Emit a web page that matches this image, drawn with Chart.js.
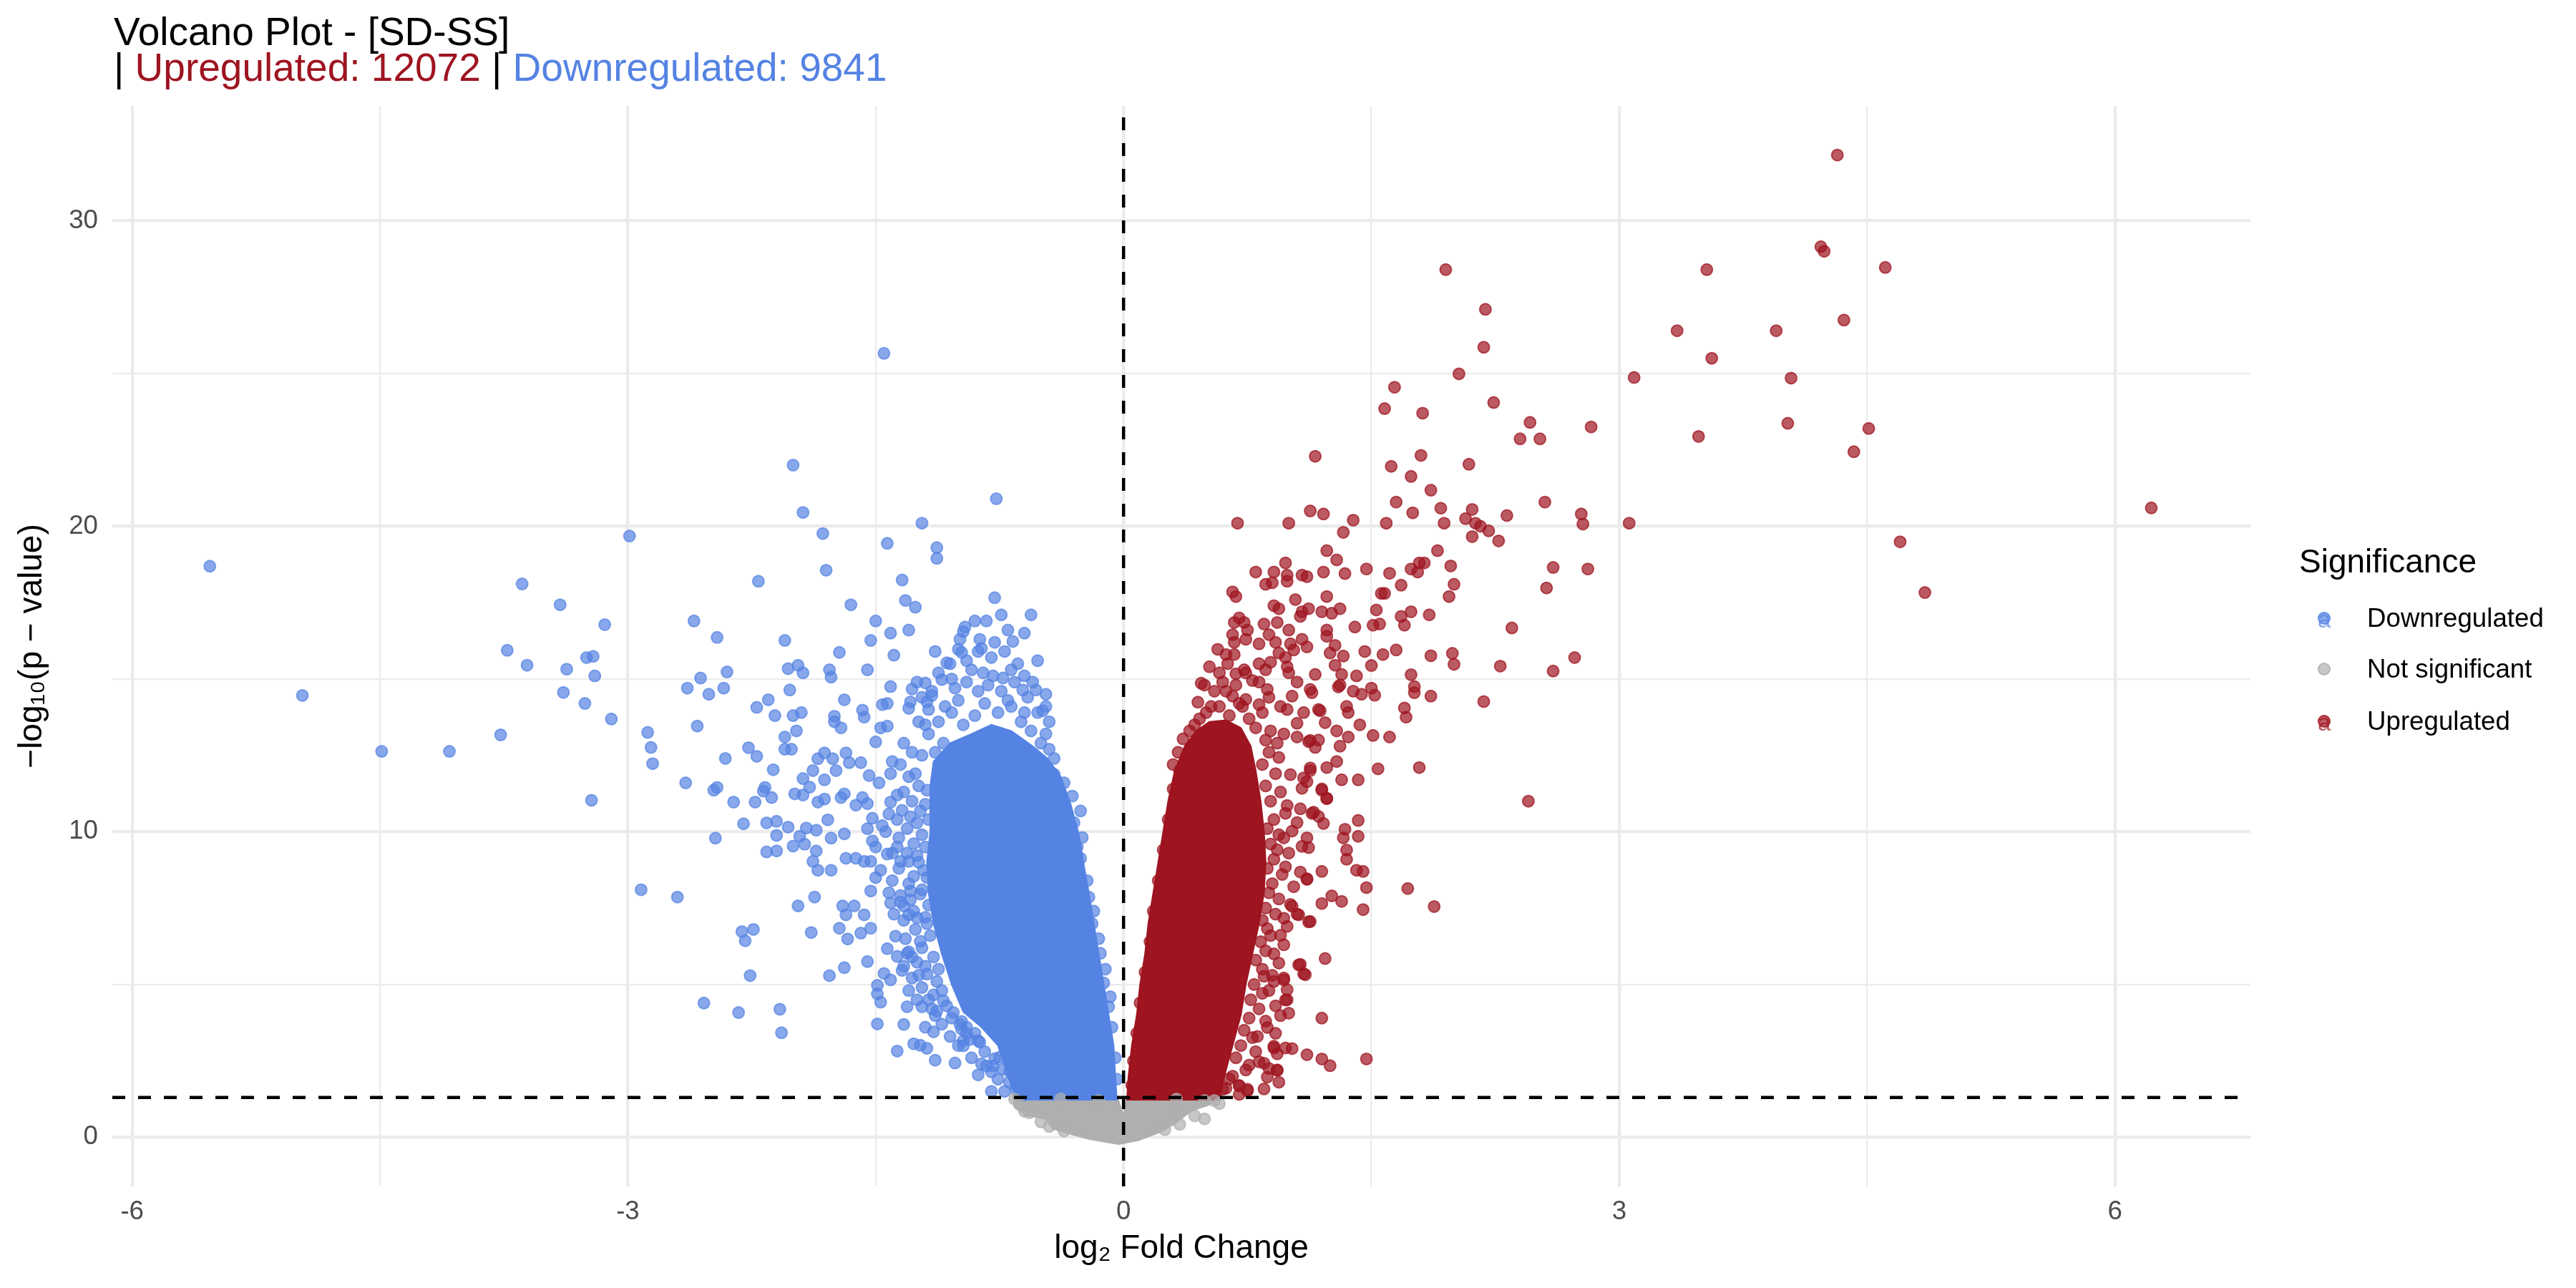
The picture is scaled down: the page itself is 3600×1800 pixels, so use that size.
<!DOCTYPE html>
<html>
<head>
<meta charset="utf-8">
<title>Volcano Plot - [SD-SS]</title>
<script src="https://cdn.jsdelivr.net/npm/chart.js@4.4.1/dist/chart.umd.min.js"></script>
<style>
  html, body { margin: 0; padding: 0; background: #fff; }
  body { font-family: "Liberation Sans", Arial, Helvetica, sans-serif; }
  #page { position: relative; width: 3600px; height: 1800px; overflow: hidden; }
  #chart { position: absolute; left: 0; top: 0; }
  #title { position: absolute; left: 159px; top: 19px; font-size: 55px; line-height: 50px; color: #000; white-space: nowrap; }
  .lg { position: absolute; white-space: nowrap; color: #000; }
  .lg-title { font-size: 46px; line-height: 46px; }
  .lg-text { font-size: 36.7px; line-height: 36.7px; }
  .lg-dot { position: absolute; box-sizing: border-box; width: 18px; height: 18px; border-radius: 50%; border-width: 2px; border-style: solid; }
  .lg-a { position: absolute; font-size: 33px; line-height: 33px; }
</style>
</head>
<body>
<div id="page">
  <canvas id="chart" width="3600" height="1800"></canvas>
  <div id="title"></div>
  <div id="legend"></div>
</div>
<script>
const contrast = "SD-SS";
const upCount = 12072;
const downCount = 9841;
const categories = ["Downregulated", "Not significant", "Upregulated"];

const xTicks = [-6, -3, 0, 3, 6];
const xMinorTicks = [-4.5, -1.5, 1.5, 4.5];
const yTicks = [0, 10, 20, 30];
const yMinorTicks = [5, 15, 25];
const xRange = [-6.12, 6.82];
const yRange = [-1.61, 33.76];

const fcCutoff = 0;
const pCutoff = 1.301; // -log10(0.05)

// single genes (log2FC, -log10 p)
const downPoints = [
  [-5.53,18.69],[-4.97,14.46],[-4.49,12.63],[-4.08,12.63],[-3.77,13.17],[-3.64,18.11],[-3.41,17.43],[-3.14,16.78],
  [-3.73,15.94],[-3.61,15.45],[-3.37,15.32],[-3.25,15.70],[-3.21,15.74],[-3.20,15.10],[-3.39,14.56],[-3.26,14.20],
  [-3.10,13.69],[-2.88,13.25],[-2.86,12.76],[-2.85,12.23],[-3.22,11.03],[-2.99,19.68],[-2.92,8.10],[-2.70,7.86],
  [-1.45,25.66],[-2.00,22.00],[-1.94,20.45],[-0.77,20.90],[-1.22,20.10],[-1.82,19.76],[-1.43,19.44],[-1.13,19.30],
  [-1.13,18.95],[-1.80,18.56],[-2.21,18.20],[-1.34,18.24],[-1.65,17.43],[-1.32,17.57],[-1.26,17.35],[-0.78,17.66],
  [-0.56,17.10],[-0.74,17.10],[-2.60,16.90],[-2.46,16.36],[-1.50,16.90],[-0.96,16.70],[-0.97,16.55],[-0.90,16.90],
  [-0.83,16.90],[-0.70,16.60],[-0.67,16.23],[-0.87,16.30],[-0.86,16.00],[-0.78,16.20],[-1.30,16.60],[-1.41,16.50],
  [-1.53,16.26],[-2.05,16.26],[-1.72,15.87],[-1.39,15.78],[-1.00,15.97],[-0.98,15.87],[-1.07,15.53],[-0.68,15.30],
  [-0.73,15.03],[-0.61,14.64],[-0.53,14.64],[-1.55,15.30],[-2.03,15.34],[-1.97,15.45],[-1.94,15.20],[-2.02,14.64],
  [-1.78,15.30],[-1.77,15.06],[-2.40,15.23],[-2.56,15.03],[-2.64,14.70],[-2.42,14.70],[-2.51,14.50],[-1.41,14.75],
  [-1.69,14.32],[-2.15,14.32],[-2.22,14.07],[-1.95,13.90],[-2.00,13.80],[-2.11,13.80],[-1.58,13.98],[-1.57,13.75],
  [-1.46,14.16],[-1.43,14.20],[-1.75,13.78],[-1.75,13.60],[-1.71,13.40],[-1.20,14.87],[-1.25,14.90],[-1.28,14.67],
  [-1.16,14.46],[-1.19,14.25],[-1.29,14.25],[-1.30,14.04],[-1.10,14.98],[-1.04,15.00],[-2.58,13.46],[-2.27,12.75],
  [-2.22,12.47],[-2.41,12.40],[-2.05,13.10],[-2.05,12.70],[-2.01,12.70],[-1.98,13.30],[-2.12,12.03],[-2.65,11.60],
  [-2.46,11.45],[-2.17,11.45],[-1.50,12.94],[-1.47,13.40],[-1.43,13.46],[-1.81,11.70],[-1.85,12.39],[-1.81,12.58],
  [-1.76,12.39],[-1.68,12.58],[-1.88,12.00],[-1.94,11.74],[-1.74,12.00],[-1.66,12.26],[-1.59,12.26],[-1.54,11.84],
  [-1.48,11.60],[-1.41,11.90],[-1.40,12.30],
  [-1.16,14.60],[-1.02,14.70],[-0.95,14.90],[-0.88,14.60],[-0.82,14.80],[-0.74,14.60],[-0.66,14.90],[-0.58,14.40],
  [-0.47,14.10],[-0.45,13.60],[-0.52,13.90],[-0.85,15.20],[-0.92,15.30],[-0.79,15.10],[-1.00,14.30],[-1.08,14.10],
  [-0.68,14.10],[-0.60,13.90],[-0.45,12.70],[-0.49,13.96],[-0.42,11.88],
  [-2.48,11.36],[-2.36,10.97],[-2.23,10.97],[-2.30,10.26],[-2.47,9.79],[-2.18,11.33],[-2.13,11.12],[-2.16,10.29],
  [-2.10,10.34],[-2.03,10.15],[-2.10,9.88],[-2.16,9.34],[-2.10,9.37],[-2.00,9.53],[-1.96,9.85],[-1.92,10.12],
  [-1.86,10.05],[-1.93,9.59],[-1.86,9.37],[-1.88,9.03],[-1.85,8.74],[-1.77,8.74],[-1.77,9.79],[-1.69,9.93],
  [-1.79,10.39],[-1.85,10.97],[-1.81,11.07],[-1.90,11.46],[-1.94,11.20],[-1.99,11.24],[-1.69,11.24],[-1.71,11.12],
  [-1.62,10.87],[-1.55,10.92],[-1.58,11.12],[-1.52,10.44],[-1.55,10.10],[-1.46,10.20],[-1.44,10.00],[-1.37,10.40],
  [-1.42,10.58],[-1.41,10.97],[-1.37,11.20],[-1.68,9.13],[-1.62,9.13],[-1.57,9.03],[-1.53,9.03],[-1.43,9.27],
  [-1.35,9.03],[-1.30,9.03],[-1.50,9.50],[-1.52,9.70],[-1.37,9.50],[-1.40,9.30],[-1.53,8.06],[-1.50,8.50],
  [-1.47,8.74],[-1.40,8.40],[-1.42,8.00],[-1.35,7.91],[-1.29,8.06],[-1.41,7.67],[-1.39,7.30],[-1.33,7.57],
  [-1.30,7.28],[-1.97,7.57],[-1.87,7.86],[-1.70,7.57],[-1.63,7.57],[-1.57,7.28],[-1.68,7.28],[-2.31,6.73],
  [-2.24,6.80],[-2.29,6.43],[-1.89,6.70],[-1.72,6.84],[-1.67,6.49],[-1.59,6.68],[-1.53,6.84],[-1.38,6.58],
  [-1.43,6.17],[-1.37,5.92],[-1.30,6.07],[-2.26,5.29],[-1.78,5.29],[-1.69,5.55],[-1.55,5.75],[-1.45,5.36],
  [-1.41,5.15],[-1.34,5.46],[-1.28,5.21],[-1.49,4.97],[-1.49,4.69],[-1.47,4.42],[-2.54,4.39],[-2.33,4.08],
  [-2.08,4.19],[-2.07,3.42],[-1.31,4.27],[-1.22,4.27],[-1.13,4.13],[-1.14,3.98],[-1.49,3.71],[-1.33,3.69],
  [-1.15,3.45],[-1.27,3.06],[-1.23,3.01],[-1.19,2.91],[-1.37,2.82],[-1.14,2.52],[-1.02,2.43],[-0.98,3.79],
  [-0.98,3.54],[-0.97,3.16],[-0.97,2.99],[-0.93,3.20],[-0.88,3.16],[-0.88,2.04],[-0.80,2.14],[-0.83,2.33],
  [-0.80,1.50],[-0.73,2.23],[-0.78,2.57],[-0.69,1.80],[-0.65,1.70],
  [-1.19,11.36],[-1.23,10.68],[-1.29,10.49],[-1.25,10.29],[-1.27,9.61],[-1.25,9.22],[-1.21,8.74],[-1.27,8.54],
  [-1.23,7.96],[-1.29,7.77],[-1.25,7.18],[-1.19,6.99],[-1.23,6.41],[-1.31,6.02],[-1.25,5.73],[-1.19,5.34],
  [-1.15,4.66],[-1.09,4.47],[-1.03,4.08],[-0.99,3.69],[-0.95,3.40],[-0.87,3.11],[-0.75,2.62],[-0.69,2.14],
  [-0.65,1.55],[-0.61,1.36],[-0.79,2.33],[-1.22,12.50],[-1.26,11.90],[-1.18,13.20],[-1.24,13.60],
  [-0.31,11.17],[-0.26,10.68],[-0.25,9.81],[-0.26,9.13],[-0.21,7.86],[-0.19,6.99],[-0.14,6.02],[-0.12,5.05],[-0.09,4.27],
  [-1.33,12.90],[-1.28,12.60],[-1.35,12.20],[-1.30,11.80],[-1.24,11.50],[-1.33,11.30],[-1.28,11.00],[-1.20,10.90],
  [-1.34,10.70],[-1.18,10.40],[-1.31,10.10],[-1.22,9.90],[-1.36,9.80],[-1.20,9.50],[-1.31,9.30],[-1.24,9.00],
  [-1.36,8.80],[-1.19,8.50],[-1.30,8.30],[-1.22,8.10],[-1.35,7.70],[-1.18,7.60],[-1.27,7.40],[-1.33,7.10],
  [-1.20,7.20],[-1.26,6.80],[-1.17,6.60],[-1.32,6.50],[-1.22,6.20],[-1.15,5.90],[-1.28,5.90],[-1.20,5.60],
  [-1.33,5.60],[-1.12,5.50],[-1.24,5.30],[-1.13,5.10],[-1.22,4.90],[-1.30,4.80],[-1.10,4.80],[-1.18,4.50],
  [-1.25,4.50],[-1.07,4.30],[-1.16,4.20],[-1.04,3.90],[-1.10,3.70],[-1.20,3.60],[-0.95,3.60],[-1.05,3.30],
  [-0.90,3.40],[-1.00,3.00],[-0.84,2.80],[-0.92,2.60],[-0.86,2.40],[-0.76,1.90],[-0.72,1.50],
  [-1.12,15.20],[-1.05,15.50],[-0.95,15.60],[-0.88,15.90],[-0.80,15.70],[-0.72,15.90],[-0.64,15.50],[-0.60,15.10],
  [-0.55,14.90],[-1.14,15.90],[-0.99,16.30],[-0.60,16.50],[-0.52,15.60],[-0.47,14.50],[-1.18,14.00],[-1.22,14.40],[-1.20,13.50],
  [-0.36,11.60],[-0.30,10.30],[-0.28,9.50],[-0.22,8.40],[-0.18,7.40],[-0.15,6.50],[-0.11,5.50],[-0.08,4.60],
  [-0.07,3.60],[-0.05,2.60],[-0.04,1.90],[-0.42,12.40],[-0.47,13.20],
  [-1.12,13.60],[-1.04,13.90],[-0.97,13.50],[-0.90,13.80],[-0.84,14.20],[-0.76,13.90],[-0.70,14.30],[-0.62,13.60],
  [-0.56,13.30],[-0.50,12.90],[-1.09,12.90],[-1.14,12.60],[-0.66,12.90],[-0.75,13.10]
];

const upPoints = [
  [4.32,32.15],[4.22,29.15],[4.24,29.00],[3.53,28.40],[4.61,28.47],[1.95,28.40],[2.19,27.10],[2.18,25.86],
  [3.35,26.40],[3.95,26.40],[4.36,26.75],[3.56,25.50],[2.03,24.99],[3.09,24.87],[4.04,24.85],[1.64,24.55],
  [1.58,23.85],[1.81,23.70],[2.24,24.05],[2.46,23.40],[2.40,22.86],[2.52,22.86],[2.83,23.25],[4.02,23.37],
  [3.48,22.94],[4.51,23.20],[4.42,22.44],[1.62,21.96],[1.80,22.32],[2.09,22.03],[1.74,21.63],[1.86,21.18],
  [1.65,20.79],[1.75,20.44],[1.92,20.59],[2.11,20.55],[2.55,20.79],[2.32,20.35],[1.94,20.10],[2.07,20.25],
  [2.13,20.10],[2.16,20.00],[2.21,19.85],[2.11,19.66],[2.27,19.52],[1.59,20.10],[2.77,20.40],[2.78,20.07],
  [3.06,20.10],[4.70,19.49],[4.85,17.83],[1.90,19.20],[1.98,18.70],[2.00,18.10],[1.74,18.60],[1.79,18.80],
  [1.82,18.80],[1.78,18.50],[1.61,18.46],[1.68,18.07],[1.56,17.80],[1.58,17.80],[1.97,17.70],[1.53,17.26],
  [1.74,17.20],[1.68,17.05],[1.70,16.76],[1.85,17.10],[1.51,16.76],[1.55,16.80],[2.60,18.65],[2.81,18.60],
  [2.56,17.98],[2.35,16.67],[1.57,15.80],[1.65,15.95],[1.86,15.76],[1.99,15.84],[2.00,15.48],[2.28,15.42],
  [2.73,15.70],[2.60,15.26],[1.50,15.44],[1.74,15.14],[6.22,20.60],
  [1.16,22.29],[0.69,20.10],[1.00,20.10],[1.13,20.50],[1.21,20.40],[1.39,20.20],[1.33,19.80],[1.23,19.20],
  [1.29,18.90],[1.21,18.50],[1.34,18.45],[1.47,18.60],[0.80,18.50],[0.91,18.50],[0.98,18.80],[0.99,18.40],
  [1.08,18.40],[1.11,18.35],[0.99,18.20],[0.86,18.10],[0.90,18.15],[0.66,17.85],[0.68,17.70],[1.04,17.60],
  [1.23,17.70],[0.91,17.40],[0.94,17.30],[1.08,17.20],[1.12,17.30],[1.07,17.05],[1.20,17.20],[1.26,17.15],
  [1.31,17.30],[1.40,16.70],[0.70,17.00],[0.67,16.85],[0.73,16.85],[0.75,16.60],[0.66,16.45],[0.74,16.30],
  [0.67,16.20],[0.85,16.80],[0.93,16.85],[0.88,16.45],[1.00,16.60],[0.92,16.20],[0.82,16.15],[1.08,16.30],
  [1.01,16.15],[1.11,16.05],[1.03,15.95],[1.23,16.60],[1.23,16.40],[1.28,16.10],[1.25,15.85],[1.33,15.75],
  [1.28,15.45],[1.46,15.90],[0.57,15.97],[0.62,15.80],[0.67,15.80],[0.94,15.85],[0.98,15.70],[0.99,15.40],
  [0.82,15.50],[0.89,15.55],[0.58,15.20],[0.68,15.17],[0.73,15.30],[1.16,15.15],[1.41,15.10],[1.32,15.15],
  [2.18,14.26],[1.86,14.44],[1.76,14.55],[1.71,13.75],[1.61,13.10],[1.51,13.15],[1.54,12.06],[1.79,12.10],
  [2.45,11.00],[1.42,11.70],[1.32,11.70],[1.42,10.37],[1.42,9.85],[1.34,10.08],[1.33,9.80],[1.35,9.40],
  [1.35,9.10],[1.41,8.74],[1.45,8.70],[1.47,8.17],[1.72,8.14],[1.88,7.55],[1.45,7.45],[1.20,8.70],
  [1.26,7.90],[1.32,7.72],[1.20,7.65],[1.22,5.85],[1.20,3.90],[1.47,2.56],[1.20,2.56],[1.25,2.34],
  [1.11,2.70],[1.09,5.35],[1.06,5.64],[1.12,7.05],[1.05,7.30],[1.02,7.56],[1.43,13.50],[1.36,13.90],
  [1.29,13.30],[1.36,13.10],[1.31,12.80],[1.29,12.30],[1.23,12.10],[1.23,11.10],[1.20,11.40],[1.18,10.50],
  [1.21,10.27],[1.22,13.57],[1.19,13.96],[1.30,14.74],[1.39,14.60],[1.44,14.50],[1.50,14.70],[1.52,14.47],
  [1.14,14.55],[1.18,13.00],[1.12,12.95],[1.13,12.00],[1.11,11.64],[1.14,10.60],[1.07,10.75],[1.12,9.48],
  [1.08,9.52],[1.11,8.44],[1.00,4.06],[0.98,2.92],[1.02,2.90],[0.94,1.80],[0.93,2.20],[0.99,4.83],
  [0.99,4.50],[0.97,5.15],[0.90,5.30],[0.93,2.73],[0.91,2.98],[0.85,2.42],[0.88,2.25],[0.75,1.57],[0.70,1.68],
  [0.49,14.80],[0.45,14.24],[0.53,14.10],[0.43,13.50],[0.36,13.04],[0.78,14.95],[0.82,14.90],[0.87,14.66],
  [1.05,14.90],[1.13,14.66],[1.02,14.44],[0.99,14.00],[1.09,13.90],[1.18,14.00],[1.05,13.55],[0.74,14.33],
  [0.82,14.16],[0.88,14.40],[0.95,14.10],[0.66,14.44],[0.72,14.10],[0.89,13.30],[0.97,13.20],[1.05,13.10],
  [1.13,12.99],[1.16,12.76],[0.47,14.86],[0.60,14.90],[0.55,14.60],[1.31,14.80],[1.35,14.10],[1.70,14.05],[1.76,14.75],
  [0.94,12.43],[1.01,11.87],[1.09,11.76],[1.13,12.09],[1.20,11.36],[1.23,11.08],[1.08,11.42],[0.99,10.86],
  [1.15,10.64],[1.05,10.30],[0.97,9.80],[1.11,9.80],[1.02,10.02],[0.93,9.41],[0.98,8.85],[1.07,8.68],
  [1.11,8.46],[1.01,7.62],[1.06,7.28],[1.13,7.06],[0.97,7.17],[0.87,6.83],[0.95,6.61],[0.91,6.00],
  [1.07,5.66],[1.10,5.32],[0.85,5.27],[0.97,5.21],[0.84,4.71],[0.98,4.49],[0.87,3.59],[0.95,3.98],
  [0.78,3.26],[0.91,2.92],[0.82,2.47],[0.76,2.36],[0.93,2.19],[0.87,1.97],[0.70,1.69],[0.75,1.52],
  [0.64,1.91],[0.85,1.58],[0.60,1.57],
  [0.88,12.60],[0.84,12.20],[0.92,11.90],[0.86,11.50],[0.95,11.30],[0.89,11.00],[0.98,10.60],[0.91,10.40],
  [0.87,10.10],[0.94,9.90],[0.89,9.60],[1.00,9.30],[0.91,9.10],[0.87,8.80],[0.96,8.60],[0.90,8.30],
  [1.03,8.20],[0.88,8.00],[0.94,7.80],[0.86,7.50],[0.92,7.30],[0.84,7.10],[0.99,6.90],[0.89,6.60],
  [0.83,6.40],[0.97,6.30],[0.86,6.10],[0.80,5.80],[0.94,5.70],[0.84,5.50],[0.91,5.10],[0.79,5.00],
  [0.88,4.80],[0.77,4.50],[0.92,4.30],[0.82,4.20],[0.76,3.90],[0.86,3.80],[0.73,3.50],[0.81,3.30],
  [0.92,3.40],[0.71,3.00],[0.80,2.80],[0.68,2.60],[0.74,2.20],[0.66,2.00],[0.62,1.60],[0.70,1.40],
  [0.50,13.90],[0.58,14.10],[0.64,13.80],[0.70,14.20],[0.76,13.70],[0.84,13.90],[0.80,13.40],[0.86,13.00],
  [0.93,12.90],[0.62,14.60],[0.68,14.80],[0.40,13.30],[0.46,13.70],[0.33,12.60],[0.30,12.20],[0.74,15.20],
  [0.86,15.30],[0.52,15.40],[0.63,15.50],[1.00,15.20],
  [0.05,1.70],[0.06,2.50],[0.08,3.40],[0.10,4.40],[0.13,5.40],[0.16,6.40],[0.18,7.40],[0.21,8.40],
  [0.24,9.40],[0.27,10.40],[0.30,11.40],[0.34,12.00]
];

const nsPoints = [
  [-0.63,1.07],[-0.60,0.85],[-0.57,0.80],[0.49,0.60],[0.58,1.10],[0.43,0.70],[0.34,0.42],[-0.50,0.50],
  [-0.45,0.35],[0.25,0.25],[-0.36,0.20],[0.55,1.20],[-0.66,1.25],[-0.38,1.25],[0.32,1.25],[0.49,1.20],[-0.15,1.20]
];

// outlines of the saturated, fully overlapped cores of each group
const downCore = [
  [-0.04,1.2],[-0.05,2.0],[-0.06,3.0],[-0.09,4.0],[-0.12,5.0],[-0.15,6.0],[-0.18,7.0],[-0.21,8.0],
  [-0.24,8.9],[-0.27,9.9],[-0.32,10.9],[-0.38,11.8],[-0.46,12.4],[-0.55,12.8],[-0.68,13.3],[-0.80,13.5],
  [-0.92,13.2],[-1.05,12.9],[-1.15,12.3],[-1.17,11.5],[-1.17,10.0],[-1.19,9.0],[-1.18,8.0],
  [-1.15,7.0],[-1.10,6.0],[-1.04,5.0],[-0.97,4.1],[-0.86,3.6],[-0.76,3.0],[-0.70,2.0],[-0.64,1.2]
];
const upCore = [
  [0.02,1.2],[0.03,2.0],[0.05,3.0],[0.08,4.0],[0.10,5.0],[0.13,6.0],[0.15,7.0],[0.18,8.0],
  [0.21,9.0],[0.24,10.0],[0.27,11.0],[0.31,12.0],[0.37,12.8],[0.44,13.3],[0.52,13.6],[0.62,13.65],
  [0.71,13.4],[0.77,12.8],[0.80,12.0],[0.83,11.0],[0.85,10.0],[0.86,9.0],[0.85,8.0],[0.82,7.0],
  [0.78,6.0],[0.74,5.0],[0.71,4.0],[0.66,3.0],[0.61,2.0],[0.58,1.2]
];
const nsCore = [
  [-0.67,1.35],[-0.66,1.0],[-0.59,0.72],[-0.47,0.6],[-0.43,0.28],[-0.31,0.09],[-0.2,-0.07],[-0.03,-0.23],
  [0.09,-0.1],[0.22,0.16],[0.31,0.44],[0.41,0.86],[0.52,1.07],[0.59,1.35],[0.02,1.35],[0.0,0.7],[-0.04,1.35]
];

const colors = { "Downregulated": "85,131,227", "Not significant": "175,175,175", "Upregulated": "158,20,32" };
const font = '"Liberation Sans", Arial, Helvetica, sans-serif';

// title
document.getElementById("title").innerHTML =
  `Volcano Plot - [${contrast}]<br>| <span style="color:rgb(${colors.Upregulated})">Upregulated: ${upCount}</span>` +
  ` | <span style="color:rgb(${colors.Downregulated})">Downregulated: ${downCount}</span>`;

const toXY = (pts) => pts.map(([x, y]) => ({ x, y }));

function pointSet(label, pts, order) {
  const c = `rgba(${colors[label]},0.7)`;
  return {
    type: "scatter", label, data: toXY(pts), order,
    pointRadius: 8, pointHoverRadius: 8, pointBorderWidth: 2,
    pointBackgroundColor: c, pointBorderColor: c, backgroundColor: c, borderColor: c
  };
}

function coreSet(label, pts, order) {
  const c = `rgb(${colors[label]})`;
  return {
    type: "line", label, data: toXY(pts), order,
    fill: "shape", backgroundColor: c, borderColor: c, borderWidth: 2,
    pointRadius: 0, tension: 0
  };
}

function dashSet(pts) {
  return {
    type: "line", label: "cutoff", data: toXY(pts), order: 0,
    borderColor: "#000", borderWidth: 4.5, borderDash: [18, 18],
    pointRadius: 0, fill: false
  };
}

const datasets = [
  dashSet([[fcCutoff, yRange[0]], [fcCutoff, yRange[1]]]),
  dashSet([[xRange[0], pCutoff], [xRange[1], pCutoff]]),
  pointSet("Not significant", nsPoints, 1),
  pointSet("Upregulated", upPoints, 2),
  pointSet("Downregulated", downPoints, 3),
  coreSet("Upregulated", upCore, 4),
  coreSet("Downregulated", downCore, 5),
  coreSet("Not significant", nsCore, 6)
];

const tickFont = { family: font, size: 36.7 };
const titleFont = { family: font, size: 46 };

new Chart(document.getElementById("chart"), {
  type: "scatter",
  data: { datasets },
  options: {
    responsive: false,
    animation: false,
    devicePixelRatio: 1,
    events: [],
    layout: { padding: { left: 0, top: 148, right: 455, bottom: 0 } },
    plugins: { legend: { display: false }, tooltip: { enabled: false } },
    scales: {
      x: {
        type: "linear", min: xRange[0], max: xRange[1],
        afterBuildTicks: (s) => { s.ticks = [...xTicks, ...xMinorTicks].sort((a, b) => a - b).map((v) => ({ value: v })); },
        afterFit: (s) => { s.height = 142; },
        ticks: {
          autoSkip: false, maxRotation: 0, padding: 13.5, color: "#4D4D4D", font: tickFont,
          callback: (v) => (xTicks.includes(v) ? String(v) : "")
        },
        grid: { color: "#EBEBEB", drawTicks: false, lineWidth: (c) => (xTicks.includes(c.tick && c.tick.value) ? 4.3 : 2.2) },
        border: { display: false },
        title: { display: true, text: "log₂ Fold Change", color: "#000", font: titleFont, padding: { top: 0, bottom: 27 } }
      },
      y: {
        type: "linear", min: yRange[0], max: yRange[1],
        afterBuildTicks: (s) => { s.ticks = [...yTicks, ...yMinorTicks].sort((a, b) => a - b).map((v) => ({ value: v })); },
        afterFit: (s) => { s.width = 157; },
        ticks: {
          autoSkip: false, padding: 20, color: "#4D4D4D", font: tickFont,
          callback: (v) => (yTicks.includes(v) ? String(v) : "")
        },
        grid: { color: "#EBEBEB", drawTicks: false, lineWidth: (c) => (yTicks.includes(c.tick && c.tick.value) ? 4.3 : 2.2) },
        border: { display: false },
        title: { display: true, text: "−log₁₀(p − value)", color: "#000", font: titleFont, padding: { top: 18, bottom: 0 } }
      }
    }
  }
});

// legend, laid out to the right of the panel
const legend = document.getElementById("legend");
const lgTitle = document.createElement("div");
lgTitle.className = "lg lg-title";
lgTitle.style.left = "3213px";
lgTitle.style.top = "761px";
lgTitle.textContent = "Significance";
legend.appendChild(lgTitle);

const baselines = [877, 948, 1021];
categories.forEach((cat, i) => {
  const c = `rgba(${colors[cat]},0.7)`;
  const dot = document.createElement("div");
  dot.className = "lg-dot";
  dot.style.left = "3239px";
  dot.style.top = (baselines[i] - 22) + "px";
  dot.style.background = c;
  dot.style.borderColor = c;
  legend.appendChild(dot);
  if (cat !== "Not significant") {
    const a = document.createElement("div");
    a.className = "lg-a";
    a.style.left = "3239px";
    a.style.top = (baselines[i] - 28) + "px";
    a.style.color = c;
    a.textContent = "a";
    legend.appendChild(a);
  }
  const t = document.createElement("div");
  t.className = "lg lg-text";
  t.style.left = "3308px";
  t.style.top = (baselines[i] - 31) + "px";
  t.textContent = cat;
  legend.appendChild(t);
});
</script>
</body>
</html>
